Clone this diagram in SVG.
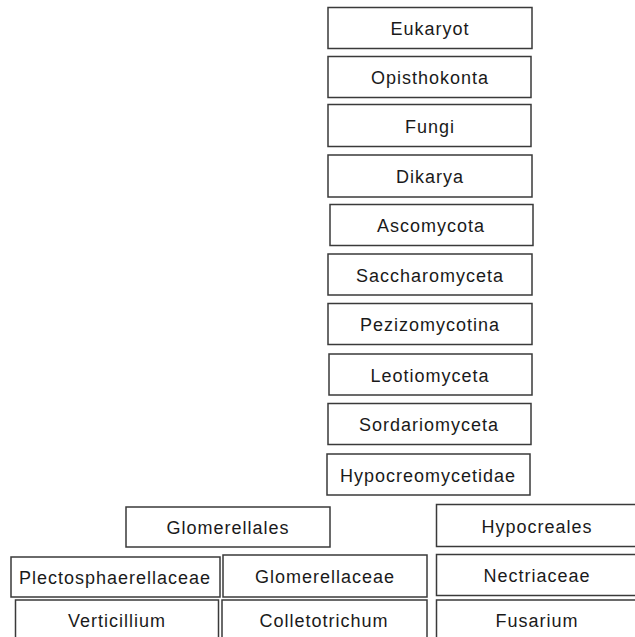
<svg xmlns="http://www.w3.org/2000/svg" width="635" height="637" viewBox="0 0 635 637">
<style>
rect{fill:#fff;stroke:#3a3a3a;stroke-width:1.5}
text{font-family:"Liberation Sans",Arial,sans-serif;font-size:18px;letter-spacing:1px;fill:#1a1a1a;text-anchor:middle;dominant-baseline:central}
</style>
<rect x="0" y="0" width="635" height="637" style="stroke:none"/>
<g id="eukaryot"><rect x="328" y="7.5" width="204" height="41"/><text x="430" y="29">Eukaryot</text></g>
<g id="opisthokonta"><rect x="328" y="56.5" width="203" height="41"/><text x="430" y="78">Opisthokonta</text></g>
<g id="fungi"><rect x="328" y="104.5" width="203" height="42"/><text x="430" y="127">Fungi</text></g>
<g id="dikarya"><rect x="328" y="155" width="204" height="42"/><text x="430" y="177">Dikarya</text></g>
<g id="ascomycota"><rect x="330" y="204.5" width="203" height="41"/><text x="431" y="226">Ascomycota</text></g>
<g id="saccharomyceta"><rect x="328" y="254" width="204" height="41"/><text x="430" y="276">Saccharomyceta</text></g>
<g id="pezizomycotina"><rect x="328" y="303.5" width="204" height="41"/><text x="430" y="325">Pezizomycotina</text></g>
<g id="leotiomyceta"><rect x="329" y="354" width="203" height="41"/><text x="430" y="376">Leotiomyceta</text></g>
<g id="sordariomyceta"><rect x="328" y="403.5" width="203" height="41"/><text x="429" y="425">Sordariomyceta</text></g>
<g id="hypocreomycetidae"><rect x="327" y="454" width="203" height="41"/><text x="428" y="476">Hypocreomycetidae</text></g>
<g id="glomerellales"><rect x="126" y="507" width="204" height="40"/><text x="228" y="528">Glomerellales</text></g>
<g id="hypocreales"><rect x="436.5" y="504.5" width="210" height="42"/><text x="537" y="527">Hypocreales</text></g>
<g id="plectosphaerellaceae"><rect x="11" y="557" width="209" height="40"/><text x="115" y="578">Plectosphaerellaceae</text></g>
<g id="glomerellaceae"><rect x="223" y="555" width="204" height="42"/><text x="325" y="577">Glomerellaceae</text></g>
<g id="nectriaceae"><rect x="436.5" y="554.5" width="210" height="41"/><text x="537" y="576">Nectriaceae</text></g>
<g id="verticillium"><rect x="15.5" y="600" width="203" height="50"/><text x="117" y="621">Verticillium</text></g>
<g id="colletotrichum"><rect x="222" y="600" width="205" height="50"/><text x="324" y="621">Colletotrichum</text></g>
<g id="fusarium"><rect x="436.5" y="600" width="210" height="50"/><text x="537" y="621">Fusarium</text></g>
<g id="connectors"></g>
</svg>
